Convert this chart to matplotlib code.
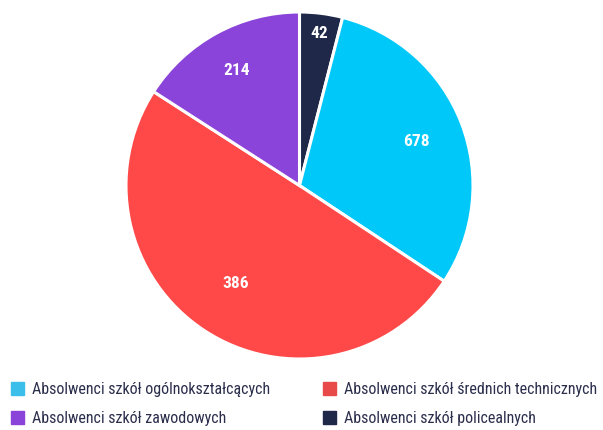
import matplotlib.pyplot as plt
import numpy as np
from matplotlib.patches import Rectangle

# kolejność na wykresie: od góry zgodnie z ruchem wskazówek
categories = [
    "Absolwenci szkół policealnych",
    "Absolwenci szkół ogólnokształcących",
    "Absolwenci szkół średnich technicznych",
    "Absolwenci szkół zawodowych",
]
shares = [4.0, 30.3, 49.8, 15.9]
value_labels = ["42", "678", "386", "214"]  # etykiety wpisane na wycinkach
pie_colors = ["#1f2848", "#00c8f8", "#ff4848", "#8b44d9"]
legend_colors = ["#1f2848", "#3bbfea", "#e84a4a", "#8b44d9"]
label_r = [0.89, 0.72, 0.67, 0.76]

plt.rcParams['font.family'] = ['Roboto Condensed', 'Roboto', 'DejaVu Sans']

fig = plt.figure(figsize=(6.03, 4.31), dpi=100)
ax = fig.add_axes([126 / 603, 71 / 431, 347 / 603, 347 / 431])

wedges, _ = ax.pie(shares, colors=pie_colors, startangle=90, counterclock=False,
                   wedgeprops=dict(edgecolor="white", linewidth=2.2))
ax.set_xlim(-1, 1)
ax.set_ylim(-1, 1)
ax.set_aspect('equal')

for w, lab, r in zip(wedges, value_labels, label_r):
    ang = np.deg2rad((w.theta1 + w.theta2) / 2)
    ax.text(r * np.cos(ang), r * np.sin(ang), lab, color="white", fontsize=12.5,
            fontweight="bold", ha="center", va="center")

# legenda: 2 kolumny
legend_order = [1, 2, 3, 0]
slots = [(11, 383), (323, 383), (11, 412), (323, 412)]
for idx, (x, y) in zip(legend_order, slots):
    fig.add_artist(Rectangle((x / 603, 1 - (y + 13) / 431), 13 / 603, 13 / 431,
                             transform=fig.transFigure, color=legend_colors[idx]))
    fig.text((x + 21) / 603, 1 - (y + 6.5) / 431, categories[idx], fontsize=11.5,
             color="#2b2f4c", ha="left", va="center")

fig.savefig("out.png", dpi=100)
